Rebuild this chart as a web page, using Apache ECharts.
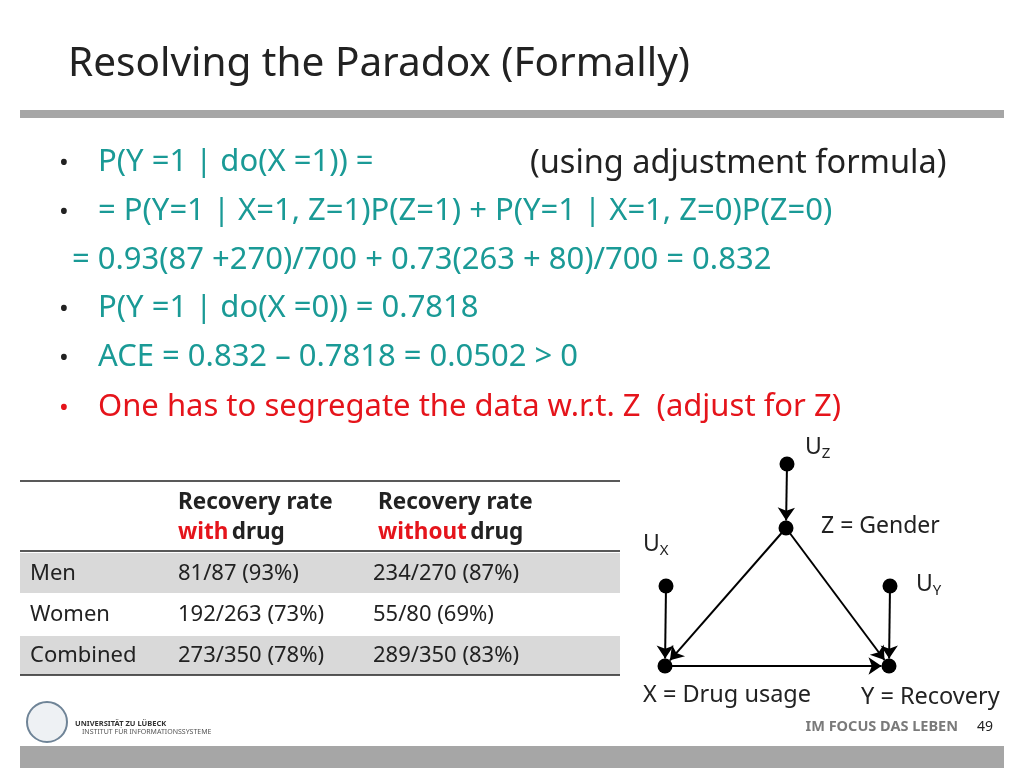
<!DOCTYPE html>
<html>
<head>
<meta charset="UTF-8">
<script src="https://cdn.jsdelivr.net/npm/echarts@6/dist/echarts.min.js"></script>
</head>
<body style="margin:0;width:1024px;height:768px;background:#fff">
<div id="main" style="width:1024px;height:768px"></div>
<script>
var rowNames = ['Men', 'Women', 'Combined'];
var withDrug = ['81/87 (93%)', '192/263 (73%)', '273/350 (78%)'];
var withoutDrug = ['234/270 (87%)', '55/80 (69%)', '289/350 (83%)'];
var bullets = [
  {b: true, t: 'P(Y =1 | do(X =1)) =', c: '#1a9a96'},
  {b: true, t: '= P(Y=1 | X=1, Z=1)P(Z=1) + P(Y=1 | X=1, Z=0)P(Z=0)', c: '#1a9a96'},
  {b: false, t: '= 0.93(87 +270)/700 + 0.73(263 + 80)/700 = 0.832', c: '#1a9a96'},
  {b: true, t: 'P(Y =1 | do(X =0)) = 0.7818', c: '#1a9a96'},
  {b: true, t: 'ACE = 0.832 \u2013 0.7818 = 0.0502 > 0', c: '#1a9a96'},
  {b: true, t: 'One has to segregate the data w.r.t. Z  (adjust for Z)', c: '#e5141b'}
];
var nodeNames = ['UZ', 'Z', 'UX', 'UY', 'X', 'Y'];
var nodeX = [787, 786, 666, 890, 665, 889];
var nodeY = [464, 528, 586, 586, 666, 666];
var edgeList = [['UZ', 'Z'], ['Z', 'X'], ['Z', 'Y'], ['UX', 'X'], ['UY', 'Y'], ['X', 'Y']];

var F = 'Noto Sans';
var chart = echarts.init(document.getElementById('main'));
var g = [];
function txt(x, y, s, size, color, weight, align) {
  g.push({type: 'text', x: x, y: y, style: {text: s, font: (weight || 'normal') + ' ' + size + 'px "' + F + '"', fill: color || '#222', textAlign: align || 'left', textVerticalAlign: 'middle'}});
}
function sub(x, y, a, s) {
  g.push({type: 'text', x: x, y: y, style: {rich: {a: {font: '23px "' + F + '"', fill: '#222'}, s: {font: '15px "' + F + '"', fill: '#222', padding: [14, 0, 0, 0]}}, text: '{a|' + a + '}{s|' + s + '}', textVerticalAlign: 'middle'}});
}
txt(68, 64, 'Resolving the Paradox (Formally)', 40.5, '#222');
g.push({type: 'rect', shape: {x: 20, y: 110, width: 984, height: 8}, style: {fill: '#a6a6a6'}});
g.push({type: 'rect', shape: {x: 20, y: 746, width: 984, height: 22}, style: {fill: '#a6a6a6'}});
var by = [162, 211, 260, 308, 357, 407];
bullets.forEach(function (r, i) {
  if (r.b) txt(59, by[i] + 2, '\u2022', 26, r.c === '#e5141b' ? '#e5141b' : '#222');
  txt(r.b ? 98 : 72, by[i], r.t, 31, r.c);
});
txt(530, 164, '(using adjustment formula)', 32.5, '#222');
// table
g.push({type: 'rect', shape: {x: 20, y: 553, width: 600, height: 40}, style: {fill: '#d9d9d9'}});
g.push({type: 'rect', shape: {x: 20, y: 636, width: 600, height: 39}, style: {fill: '#d9d9d9'}});
[481, 551, 675].forEach(function (y) {
  g.push({type: 'line', shape: {x1: 20, y1: y, x2: 620, y2: y}, style: {stroke: '#222', lineWidth: 1.3}});
});
g.push({type: 'line', shape: {x1: 20, y1: 594, x2: 620, y2: 594}, style: {stroke: '#fff', lineWidth: 2}});
g.push({type: 'line', shape: {x1: 20, y1: 635, x2: 620, y2: 635}, style: {stroke: '#fff', lineWidth: 2}});
var HF = 'bold 22.5px "' + F + '"';
txt(178, 503, 'Recovery rate', 22.5, '#222', 'bold');
txt(378, 503, 'Recovery rate', 22.5, '#222', 'bold');
g.push({type: 'text', x: 178, y: 533, style: {rich: {r: {fill: '#e5141b', font: HF}, k: {fill: '#222', font: HF}}, text: '{r|with} {k|drug}', textVerticalAlign: 'middle'}});
g.push({type: 'text', x: 378, y: 533, style: {rich: {r: {fill: '#e5141b', font: HF}, k: {fill: '#222', font: HF}}, text: '{r|without} {k|drug}', textVerticalAlign: 'middle'}});
var ry = [574, 615, 656];
rowNames.forEach(function (n, i) {
  txt(30, ry[i], n, 22, '#222');
  txt(178, ry[i], withDrug[i], 22, '#222');
  txt(373, ry[i], withoutDrug[i], 22, '#222');
});
// graph labels
sub(805, 447, 'U', 'Z');
sub(643, 544, 'U', 'X');
sub(916, 584, 'U', 'Y');
txt(821, 526, 'Z = Gender', 23, '#222');
txt(643, 695, 'X = Drug usage', 23.5, '#222');
txt(861, 697, 'Y = Recovery', 23.5, '#222');
// footer
g.push({type: 'circle', shape: {cx: 47, cy: 722, r: 20}, style: {fill: '#eef1f4', stroke: '#6f8497', lineWidth: 2}});
txt(75, 724, 'UNIVERSIT\u00c4T ZU L\u00dcBECK', 7.5, '#333', 'bold');
txt(82, 732, 'INSTITUT F\u00dcR INFORMATIONSSYSTEME', 7, '#555');
txt(958, 727, 'IM FOCUS DAS LEBEN', 14.5, '#7a7a7a', 'bold', 'right');
txt(977, 727, '49', 14, '#222');

chart.setOption({
  animation: false,
  graphic: g,
  series: [{
    type: 'graph', layout: 'none',
    left: 665, top: 464, width: 225, height: 202,
    symbolSize: 15,
    itemStyle: {color: '#000'},
    edgeSymbol: ['none', 'arrow'], edgeSymbolSize: 13,
    lineStyle: {color: '#000', width: 2, opacity: 1},
    label: {show: false},
    data: nodeNames.map(function (n, i) { return {name: n, x: nodeX[i], y: nodeY[i]}; }),
    links: edgeList.map(function (e) { return {source: e[0], target: e[1]}; })
  }]
});
</script>
</body>
</html>
